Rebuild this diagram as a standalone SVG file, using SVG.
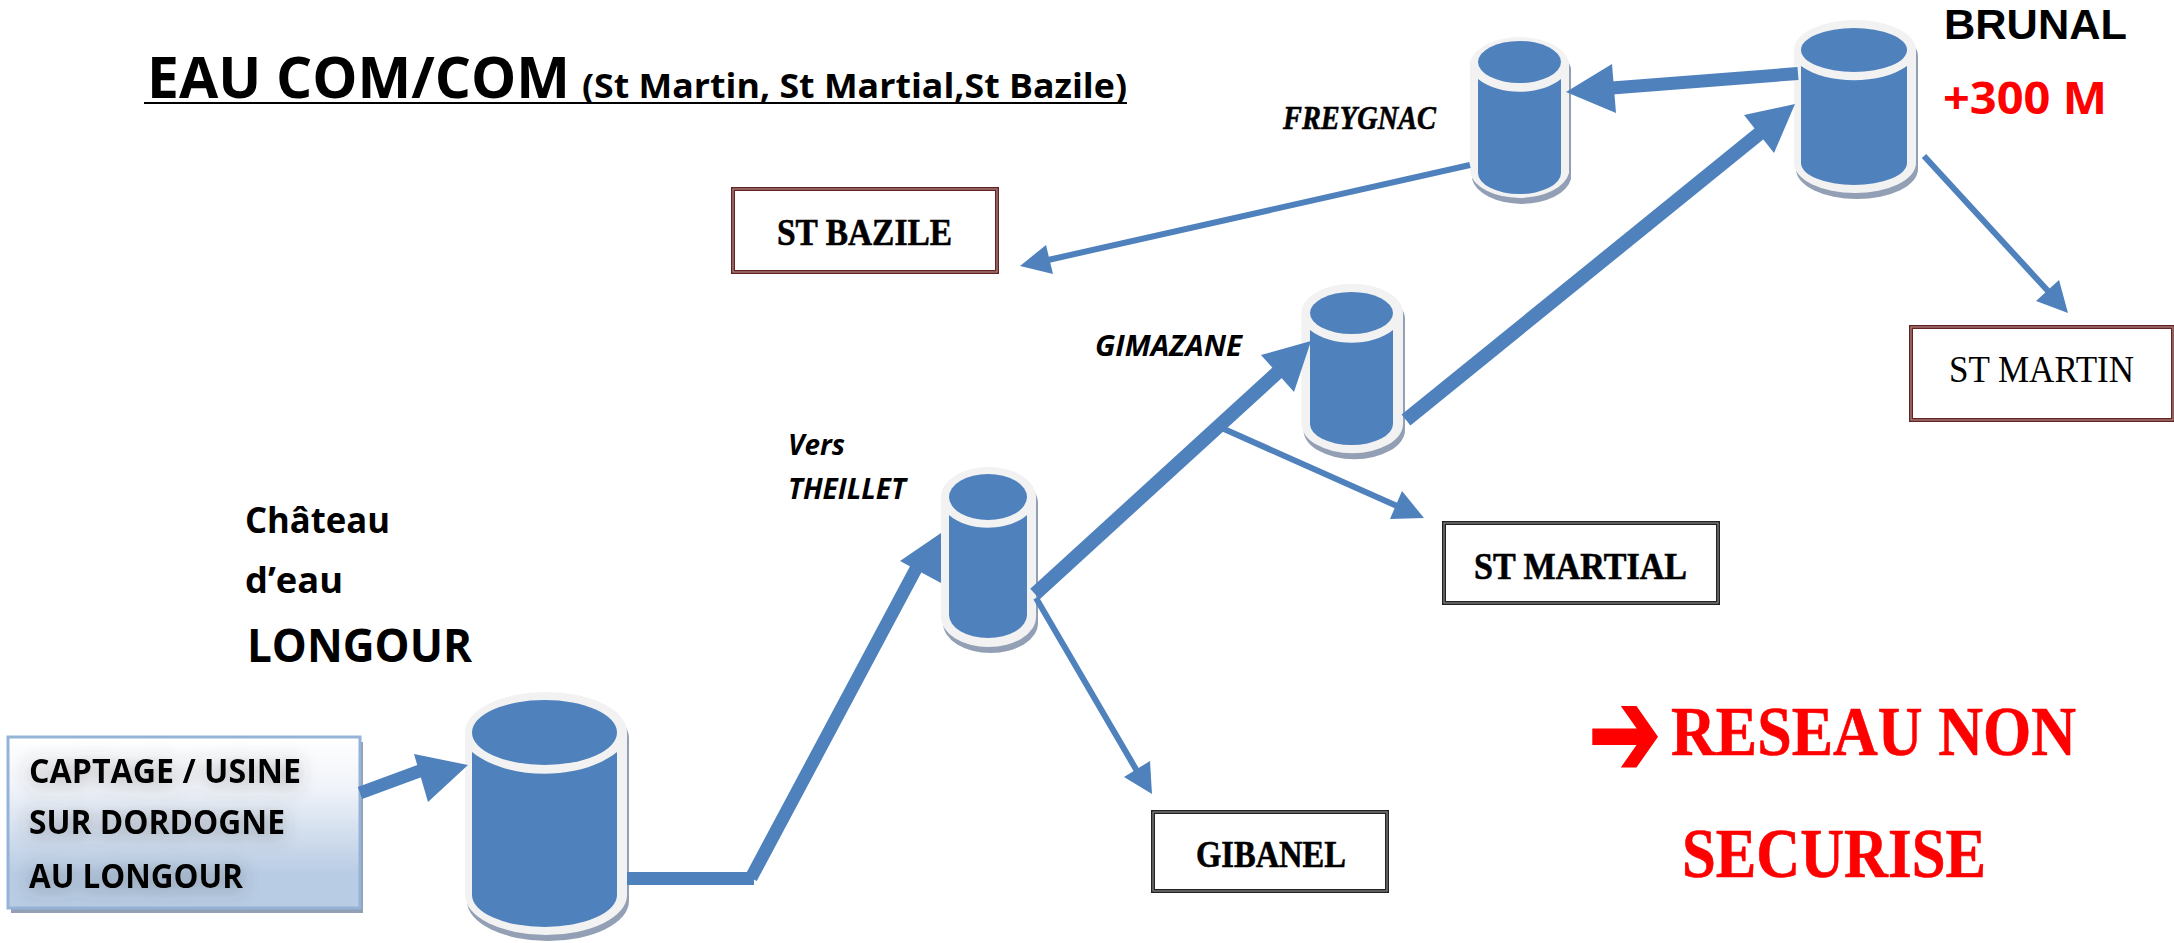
<svg xmlns="http://www.w3.org/2000/svg" width="2174" height="943" viewBox="0 0 2174 943">
<style>
.sh{fill:#929fb5}.ou{fill:#f2f2f2}.bl{fill:#4f81bd}
.ln{stroke:#4f81bd;fill:none}.hd{fill:#4f81bd}
.w13{stroke-width:13}.w14{stroke-width:14}.w6{stroke-width:6}
.sans{font-family:"Open Sans",Lato,"Liberation Sans",sans-serif;font-weight:700;fill:#000}
.ser{font-family:"Liberation Serif",serif;font-weight:700;fill:#000;stroke:#000;stroke-width:0.6}
.it{font-style:italic}.red{fill:#f00;stroke:#f00}
.bxr{fill:#fff;stroke:#622423;stroke-width:4}.bxri{fill:none;stroke:#c09a9a;stroke-width:1}
.bxk{fill:#fff;stroke:#222;stroke-width:4}.bxki{fill:none;stroke:#999;stroke-width:1}
</style>
<defs>
<linearGradient id="capt" x1="0" y1="0" x2="0" y2="1"><stop offset="0" stop-color="#fff"/><stop offset="0.3" stop-color="#f0f3f9"/><stop offset="0.8" stop-color="#b8cce4"/><stop offset="1" stop-color="#b8cce4"/></linearGradient>
<filter id="glow" x="-20%" y="-60%" width="140%" height="220%"><feDropShadow dx="0" dy="3" stdDeviation="9" flood-color="#444" flood-opacity="0.45"/></filter>
</defs>

<g id="title">
<text class="sans" x="147" y="98" font-size="57" textLength="423" lengthAdjust="spacingAndGlyphs">EAU COM/COM</text>
<text class="sans" x="582" y="98" font-size="34" textLength="545" lengthAdjust="spacingAndGlyphs">(St Martin, St Martial,St Bazile)</text>
<rect x="144" y="102" width="983" height="2" fill="#000"/>
</g>

<g id="captage">
<rect x="11" y="742" width="352" height="171" fill="#929fb5"/>
<rect x="8" y="737" width="352" height="171" fill="url(#capt)" stroke="#95b3d7" stroke-width="3"/>
<g filter="url(#glow)">
<text class="sans" x="29" y="783" font-size="34" textLength="272" lengthAdjust="spacingAndGlyphs">CAPTAGE / USINE</text>
<text class="sans" x="29" y="834" font-size="34" textLength="256" lengthAdjust="spacingAndGlyphs">SUR DORDOGNE</text>
<text class="sans" x="29" y="888" font-size="34" textLength="214" lengthAdjust="spacingAndGlyphs">AU LONGOUR</text>
</g>
</g>

<g id="longour">
<path class="sh" d="M467 738A81 40 0 0 1 629 738V901A81 40 0 0 1 467 901Z"/>
<path class="ou" d="M465 732A81 40 0 0 1 627 732V895A81 40 0 0 1 465 895Z"/>
<ellipse class="bl" cx="544.5" cy="732.5" rx="72.5" ry="32.5"/>
<path class="bl" d="M472 752C508 781 581 781 617 752V895A72.5 32 0 0 1 472 895Z"/>
<text class="sans" x="245" y="533" font-size="36" textLength="145" lengthAdjust="spacingAndGlyphs">Château</text>
<text class="sans" x="245" y="593" font-size="36" textLength="98" lengthAdjust="spacingAndGlyphs">d’eau</text>
<text class="sans" x="247" y="662" font-size="46" textLength="225" lengthAdjust="spacingAndGlyphs">LONGOUR</text>
</g>

<g id="theillet">
<path class="sh" d="M943 503A47.5 30 0 0 1 1038 503V623A47.5 30 0 0 1 943 623Z"/>
<path class="ou" d="M941 497A47.5 30 0 0 1 1036 497V617A47.5 30 0 0 1 941 617Z"/>
<ellipse class="bl" cx="988" cy="497" rx="39" ry="23"/>
<path class="bl" d="M949 515C968 532 1008 532 1027 515V615A39 23 0 0 1 949 615Z"/>
<text class="sans it" x="788" y="455" font-size="28" textLength="57" lengthAdjust="spacingAndGlyphs">Vers</text>
<text class="sans it" x="788" y="499" font-size="28" textLength="118" lengthAdjust="spacingAndGlyphs">THEILLET</text>
</g>

<g id="gimazane">
<path class="sh" d="M1303.500 319A50.500 29 0 0 1 1405 319V430A50.500 29 0 0 1 1303.500 430Z"/>
<path class="ou" d="M1301.500 313A50.500 29 0 0 1 1403 313V424A50.500 29 0 0 1 1301.500 424Z"/>
<ellipse class="bl" cx="1351.500" cy="313" rx="41.500" ry="21"/>
<path class="bl" d="M1310 330C1331 347 1372 347 1393 330V424A41.500 21 0 0 1 1310 424Z"/>
<text class="sans it" x="1095" y="356" font-size="28" textLength="147" lengthAdjust="spacingAndGlyphs">GIMAZANE</text>
</g>

<g id="freygnac">
<path class="sh" d="M1472 68A50 29 0 0 1 1571 68V179A50 29 0 0 1 1472 179Z"/>
<path class="ou" d="M1470 62A50 29 0 0 1 1569 62V173A50 29 0 0 1 1470 173Z"/>
<ellipse class="bl" cx="1519.500" cy="62" rx="41.500" ry="21"/>
<path class="bl" d="M1478 79C1499 96 1540 96 1561 79V173A41.500 21 0 0 1 1478 173Z"/>
<text class="ser it" x="1283" y="129" font-size="34" textLength="153" lengthAdjust="spacingAndGlyphs">FREYGNAC</text>
</g>

<g id="brunal">
<path class="sh" d="M1796 56A61 30 0 0 1 1918 56V169A61 30 0 0 1 1796 169Z"/>
<path class="ou" d="M1794 50A61 30 0 0 1 1916 50V163A61 30 0 0 1 1794 163Z"/>
<ellipse class="bl" cx="1854" cy="50" rx="53" ry="22"/>
<path class="bl" d="M1801 66C1827 85 1881 85 1907 66V163A53 22 0 0 1 1801 163Z"/>
<text x="1944" y="39" font-family="'Liberation Sans',sans-serif" font-weight="700" font-size="43" textLength="183" lengthAdjust="spacingAndGlyphs">BRUNAL</text>
<text class="sans" style="fill:#f00" x="1943" y="114" font-size="45" textLength="164" lengthAdjust="spacingAndGlyphs">+300 M</text>
</g>

<g id="st-bazile">
<rect class="bxr" x="733" y="189" width="264" height="83"/><rect class="bxri" x="733" y="189" width="264" height="83"/>
<text class="ser" x="777" y="245" font-size="38" textLength="175" lengthAdjust="spacingAndGlyphs">ST BAZILE</text>
</g>
<g id="st-martin">
<rect class="bxr" x="1911" y="327" width="262" height="93"/><rect class="bxri" x="1911" y="327" width="262" height="93"/>
<text class="ser" style="font-weight:400;stroke:none" x="1949" y="382" font-size="38" textLength="185" lengthAdjust="spacingAndGlyphs">ST MARTIN</text>
</g>
<g id="st-martial">
<rect class="bxk" x="1444" y="523" width="274" height="80"/><rect class="bxki" x="1444" y="523" width="274" height="80"/>
<text class="ser" x="1474" y="579" font-size="38" textLength="213" lengthAdjust="spacingAndGlyphs">ST MARTIAL</text>
</g>
<g id="gibanel">
<rect class="bxk" x="1153" y="812" width="234" height="79"/><rect class="bxki" x="1153" y="812" width="234" height="79"/>
<text class="ser" x="1196" y="867" font-size="38" textLength="150" lengthAdjust="spacingAndGlyphs">GIBANEL</text>
</g>

<g id="note">
<text transform="translate(1588 776) scale(0.7 1)" font-family="'DejaVu Sans',sans-serif" font-weight="700" font-size="125" fill="#f00" stroke="#f00" stroke-width="2">➔</text>
<text class="ser red" x="1671" y="755" font-size="70" textLength="405" lengthAdjust="spacingAndGlyphs">RESEAU NON</text>
<text class="ser red" x="1682" y="877" font-size="70" textLength="304" lengthAdjust="spacingAndGlyphs">SECURISE</text>
</g>

<g id="connectors">
<line class="ln w13" x1="360" y1="793" x2="425" y2="769"/><polygon class="hd" points="414,754 468,765 428,802"/>
<line class="ln w13" x1="627" y1="878.500" x2="754" y2="878.500"/>
<line class="ln w13" x1="751" y1="878" x2="918" y2="565"/><polygon class="hd" points="900,561 941,533 941,583"/>
<line class="ln w14" x1="1035" y1="594" x2="1279" y2="371"/><polygon class="hd" points="1261,355 1311,341 1294,392"/>
<line class="ln w6" x1="1224" y1="429" x2="1397" y2="506"/><polygon class="hd" points="1402,491 1424,518 1390,519"/>
<line class="ln w14" x1="1406" y1="420" x2="1760" y2="133"/><polygon class="hd" points="1744,115 1795,104 1774,153"/>
<line class="ln w13" x1="1798" y1="73.500" x2="1612" y2="88"/><polygon class="hd" points="1612,64 1566,92 1616,113"/>
<line class="ln w6" x1="1470" y1="165" x2="1048" y2="260"/><polygon class="hd" points="1046,245 1020,266 1053,274"/>
<line class="ln w6" x1="1924" y1="156" x2="2048" y2="291"/><polygon class="hd" points="2036,301 2068,313 2059,280"/>
<line class="ln w6" x1="1036" y1="598" x2="1137" y2="771"/><polygon class="hd" points="1124,777 1152,794 1150,761"/>
</g>
</svg>
